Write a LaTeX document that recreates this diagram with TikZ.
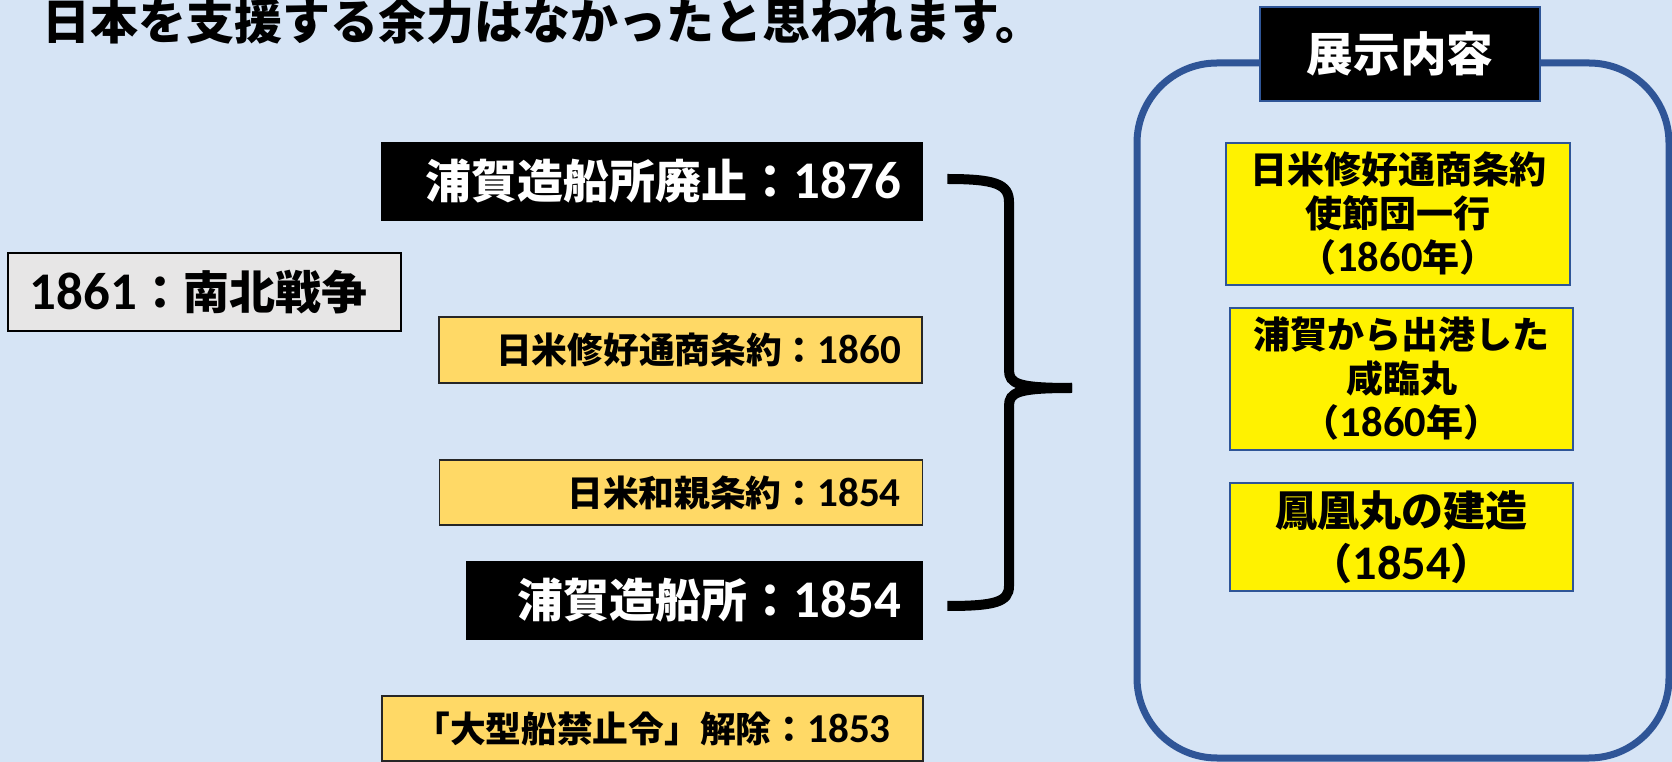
\documentclass[tikz,border=0pt]{standalone}
\usepackage{fontspec}
\setmainfont{Noto Sans CJK JP}
\newfontfamily\carl{Carlito}[Scale=1.15]
\usetikzlibrary{calc}
\newcommand\dg[1]{{\carl\bfseries #1}}
\definecolor{bgblue}{RGB}{214,228,245}
\definecolor{gold}{HTML}{FFD966}
\definecolor{ppblue}{HTML}{2F5597}
\definecolor{lgray}{HTML}{E7E6E6}
\tikzset{
  blackbox/.style={fill=black, text=white, inner ysep=0pt, align=right,
    font=\bfseries\fontsize{34.5pt}{40pt}\selectfont},
  orangebox/.style={fill=gold, draw=black!85, line width=1.2pt, inner ysep=0pt,
    font=\bfseries\fontsize{26.8pt}{31pt}\selectfont},
  yellowbox/.style={fill=yellow, draw=ppblue, line width=1.5pt, align=center,
    inner sep=0pt, minimum width=257.5pt},
  bracestyle/.style={line width=7.5pt, black},
}
\begin{document}
\begin{tikzpicture}[x=0.75pt,y=-0.75pt]
\useasboundingbox (0,0) rectangle (1672,762);
\fill[bgblue] (0,0) rectangle (1672,762);

% heading line (cut at top)
\node[anchor=base west, inner sep=0pt, font=\bfseries\fontsize{36pt}{40pt}\selectfont] (head) at (42,40)
  {日本を支援する余力はなかったと思われます。};

% left box
\node[fill=lgray, draw=black, line width=1.5pt, minimum height=58.5pt, inner ysep=0pt,
  inner xsep=16.5pt, text width=261.75pt, align=left,
  font=\bfseries\fontsize{34.5pt}{40pt}\selectfont] (war) at (204.5,292) {\dg{1861}：南北戦争};

% timeline boxes
\node[blackbox, minimum height=59.25pt, inner xsep=16.5pt, text width=373.5pt] (A) at (652,181.5)
  {浦賀造船所廃止：\dg{1876}};
\node[orangebox, minimum height=49.5pt, inner xsep=15.75pt, text width=330.75pt, align=right] (B) at (680.5,350)
  {日米修好通商条約：\dg{1860}};
\node[orangebox, minimum height=48.75pt, inner xsep=16.2pt, text width=329.6pt, align=right] (C) at (681,492.5)
  {日米和親条約：\dg{1854}};
\node[blackbox, minimum height=59.25pt, inner xsep=16.5pt, text width=309.75pt] (D) at (694.5,600.5)
  {浦賀造船所：\dg{1854}};
\node[orangebox, minimum height=48.75pt, minimum width=405.75pt, align=center] (E) at (652.5,728.5)
  {「大型船禁止令」解除：\dg{1853}};

% brace
\coordinate (tip) at (1072,388);
\draw[bracestyle] ($(A.east)+(24,-2.5)$) .. controls (995,179) and (1009,184) .. (1009,202)
  -- (1009,370) .. controls (1009,384) and (1018,388) .. (tip);
\draw[bracestyle] (tip) .. controls (1018,388) and (1009,392) .. (1009,406)
  -- (1009,586) .. controls (1009,602) and (995,606) .. ($(D.east)+(24,5.5)$);

% exhibit frame
\draw[ppblue, line width=5.25pt, rounded corners=60pt] (1137,63) rectangle (1669,758);
\node[fill=black, draw=ppblue, line width=2pt, text=white, minimum width=210pt, minimum height=70.5pt,
  inner sep=0pt, font=\bfseries\fontsize{35pt}{40pt}\selectfont] (T) at (1400,54) {展示内容};

\node[yellowbox, minimum height=106.5pt, font=\bfseries\fontsize{27.75pt}{33pt}\selectfont] (Y1) at (1398,214)
  {日米修好通商条約\\使節団一行\\（\dg{1860}年）};
\node[yellowbox, minimum height=106.5pt, font=\bfseries\fontsize{27.75pt}{33pt}\selectfont] (Y2) at (1401.5,379)
  {浦賀から出港した\\咸臨丸\\（\dg{1860}年）};
\node[yellowbox, minimum height=81pt, font=\bfseries\fontsize{31.5pt}{39.75pt}\selectfont] (Y3) at (1401.5,537)
  {鳳凰丸の建造\\（\dg{1854}）};
\end{tikzpicture}
\end{document}
